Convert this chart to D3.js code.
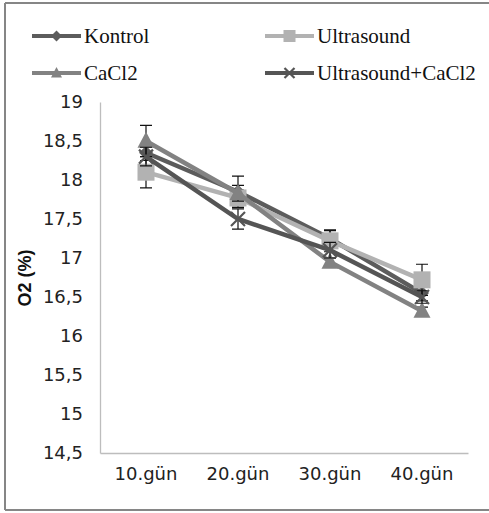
<!DOCTYPE html>
<html>
<head>
<meta charset="utf-8">
<script src="https://cdn.jsdelivr.net/npm/d3@7"></script>
<style>
  body { margin: 0; background: #fff; overflow: hidden; }
  svg { display: block; }
</style>
</head>
<body>
<div id="chart"></div>
<script>
// data
const days = ['10.gün', '20.gün', '30.gün', '40.gün'];
const seriesNames = ['Kontrol', 'Ultrasound', 'CaCl2', 'Ultrasound+CaCl2'];
const kontrol = [18.35, 17.85, 17.25, 16.55];
const ultrasound = [18.1, 17.77, 17.22, 16.72];
const cacl2 = [18.5, 17.83, 16.95, 16.32];
const usCacl2 = [18.3, 17.5, 17.1, 16.5];
const kontrolErr = [0.1, 0.2, 0.1, 0.1];
const ultrasoundErr = [0.2, 0.1, 0.14, 0.2];
const cacl2Err = [0.2, 0.1, 0.05, 0.05];
const usCacl2Err = [0.12, 0.13, 0.1, 0.08];
const yTicks = [14.5, 15, 15.5, 16, 16.5, 17, 17.5, 18, 18.5, 19];

const W = 489, H = 513;
const plot = {left: 100, right: 468, top: 102, bottom: 453};

const svg = d3.select('#chart').append('svg')
    .attr('width', W)
    .attr('height', H);

// outer frame (right side runs off the picture)
const frame = svg.append('g').attr('stroke', '#868686').attr('stroke-width', 2);
frame.append('line').attr('x1', 5).attr('x2', W).attr('y1', 3).attr('y2', 3);
frame.append('line').attr('x1', 5).attr('x2', W).attr('y1', 510).attr('y2', 510);
frame.append('line').attr('x1', 5).attr('x2', 5).attr('y1', 3).attr('y2', 510);

const x = d3.scaleBand()
    .domain(days)
    .range([plot.left, plot.right]);

const y = d3.scaleLinear()
    .domain([14.5, 19])
    .range([plot.bottom, plot.top]);

const fmt = d => String(d).replace('.', ',');

// y axis
const yAxis = svg.append('g')
    .attr('transform', `translate(${plot.left},0)`)
    .call(d3.axisLeft(y).tickValues(yTicks).tickFormat(fmt).tickSize(0).tickPadding(17));
yAxis.select('.domain').attr('stroke', '#bdbdbd').attr('stroke-width', 1.3);
yAxis.selectAll('text')
    .attr('font-family', 'DejaVu Sans')
    .attr('font-size', 18)
    .attr('fill', '#222');

// x axis
const xAxis = svg.append('g')
    .attr('transform', `translate(0,${plot.bottom})`)
    .call(d3.axisBottom(x).tickSize(0).tickPadding(14));
xAxis.select('.domain').attr('stroke', '#bdbdbd').attr('stroke-width', 1.3);
xAxis.selectAll('text')
    .attr('font-family', 'DejaVu Sans')
    .attr('font-size', 18)
    .attr('fill', '#222');

// y axis title
svg.append('text')
    .attr('transform', 'translate(31,278) rotate(-90)')
    .attr('text-anchor', 'middle')
    .attr('font-family', 'Liberation Sans')
    .attr('font-weight', 'bold')
    .attr('font-size', 18)
    .attr('fill', '#111')
    .text('O2 (%)');

const series = [
    {name: seriesNames[0], values: kontrol, err: kontrolErr, color: '#5c5c5c', marker: 'diamond'},
    {name: seriesNames[1], values: ultrasound, err: ultrasoundErr, color: '#b2b2b2', marker: 'square'},
    {name: seriesNames[2], values: cacl2, err: cacl2Err, color: '#828282', marker: 'triangle'},
    {name: seriesNames[3], values: usCacl2, err: usCacl2Err, color: '#555555', marker: 'cross'}
];

const cx = d => x(d) + x.bandwidth() / 2;

function drawMarker(g, type, px, py, color, s) {
    if (type === 'diamond') {
        g.append('path')
            .attr('d', `M${px},${py - s}L${px + s},${py}L${px},${py + s}L${px - s},${py}Z`)
            .attr('fill', color);
    } else if (type === 'square') {
        g.append('rect')
            .attr('x', px - s).attr('y', py - s)
            .attr('width', 2 * s).attr('height', 2 * s)
            .attr('fill', color);
    } else if (type === 'triangle') {
        g.append('path')
            .attr('d', `M${px},${py - s * 1.1}L${px + s},${py + s * 0.8}L${px - s},${py + s * 0.8}Z`)
            .attr('fill', color);
    } else {
        g.append('path')
            .attr('d', `M${px - s},${py - s}L${px + s},${py + s}M${px - s},${py + s}L${px + s},${py - s}`)
            .attr('stroke', color)
            .attr('stroke-width', 2.2)
            .attr('fill', 'none');
    }
}

const line = d3.line()
    .x((v, i) => cx(days[i]))
    .y(v => y(v));

series.forEach(s => {
    const g = svg.append('g');

    // error bars
    s.values.forEach((v, i) => {
        const px = cx(days[i]);
        const y1 = y(v + s.err[i]), y2 = y(v - s.err[i]);
        g.append('path')
            .attr('d', `M${px},${y1}V${y2}M${px - 6},${y1}H${px + 6}M${px - 6},${y2}H${px + 6}`)
            .attr('stroke', '#111')
            .attr('stroke-width', 1.2)
            .attr('fill', 'none');
    });

    g.append('path')
        .datum(s.values)
        .attr('d', line)
        .attr('fill', 'none')
        .attr('stroke', s.color)
        .attr('stroke-width', 4.5);

    s.values.forEach((v, i) => {
        const size = s.marker === 'cross' ? 7 : (s.marker === 'diamond' ? 7 : 8.5);
        drawMarker(g, s.marker, cx(days[i]), y(v), s.color, size);
    });
});

// legend
const legendPos = [[32, 36], [265, 36], [32, 73], [265, 73]];
series.forEach((s, i) => {
    const [lx, ly] = legendPos[i];
    const g = svg.append('g');
    g.append('line')
        .attr('x1', lx).attr('x2', lx + 49)
        .attr('y1', ly).attr('y2', ly)
        .attr('stroke', s.color)
        .attr('stroke-width', 4);
    const msize = s.marker === 'cross' ? 5 : (s.marker === 'square' ? 6 : 5.5);
    drawMarker(g, s.marker, lx + 24.5, ly, s.color, msize);
    g.append('text')
        .attr('x', lx + 52)
        .attr('y', ly + 7)
        .attr('font-family', 'Liberation Serif')
        .attr('font-size', 21)
        .attr('fill', '#111')
        .text(s.name);
});
</script>
</body>
</html>
